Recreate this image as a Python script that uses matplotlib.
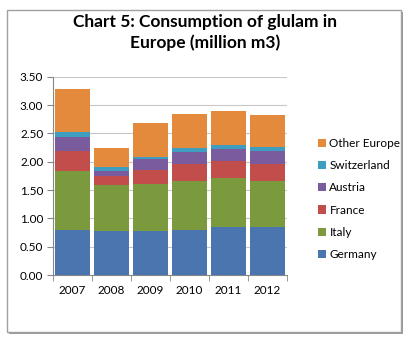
import matplotlib
matplotlib.use("Agg")
import matplotlib.pyplot as plt
from matplotlib.patches import Rectangle
import numpy as np

years = ["2007", "2008", "2009", "2010", "2011", "2012"]
series_names = ["Germany", "Italy", "France", "Austria", "Switzerland", "Other Europe"]
germany = [0.79, 0.78, 0.78, 0.79, 0.85, 0.85]
italy = [1.05, 0.81, 0.83, 0.87, 0.87, 0.81]
france = [0.34, 0.16, 0.25, 0.30, 0.29, 0.30]
austria = [0.26, 0.09, 0.18, 0.21, 0.21, 0.23]
switzerland = [0.08, 0.06, 0.05, 0.08, 0.07, 0.07]
other_europe = [0.76, 0.35, 0.59, 0.60, 0.60, 0.56]
colors = ["#4A75AE", "#7B9A3D", "#C24E4C", "#7A5B9E", "#3F9DC0", "#E48A3C"]

plt.rcParams['font.family'] = ['Lato', 'DejaVu Sans']

fig = plt.figure(figsize=(4.13, 3.44), dpi=100)
fig.patch.set_facecolor("white")

# frame with shadow
fig.patches.append(Rectangle((9/413, 1-334/344), 394/413, 322/344, transform=fig.transFigure,
                             facecolor="#9a9a9a", edgecolor="none", zorder=0))
fig.patches.append(Rectangle((7/413, 1-332/344), 394/413, 322/344, transform=fig.transFigure,
                             facecolor="white", edgecolor="#a0a0a0", linewidth=1, zorder=0.5))

ax = fig.add_axes([53/413, 1-275/344, 234/413, (275-76.7)/344])
ax.set_zorder(2)
x = np.arange(len(years))
data = [germany, italy, france, austria, switzerland, other_europe]
bottom = np.zeros(len(years))
handles = []
for name, vals, c in zip(series_names, data, colors):
    h = ax.bar(x, vals, width=0.9, bottom=bottom, color=c, label=name, zorder=3)
    handles.append(h)
    bottom += np.array(vals)

ax.set_xlim(-0.5, len(years) - 0.5)
ax.set_ylim(0, 3.5)
ax.set_yticks(np.arange(0, 3.51, 0.5))
ax.set_yticklabels([f"{v:.2f}" for v in np.arange(0, 3.51, 0.5)])
ax.set_xticks(x)
ax.set_xticklabels(years)
ax.set_xticks(np.arange(-0.5, len(years), 1), minor=True)
ax.tick_params(axis='x', which='major', length=0, pad=7, labelsize=8.5, colors="black")
ax.tick_params(axis='x', which='minor', length=4, color="#888888", direction='out')
ax.tick_params(axis='y', length=4, color="#888888", labelsize=8.5, pad=3)
ax.grid(axis='y', color="#c8c8c8", linewidth=0.8, zorder=0)
for s in ["top", "right"]:
    ax.spines[s].set_visible(False)
ax.spines["left"].set_color("#888888")
ax.spines["bottom"].set_color("#888888")

fig.text(205/413, 1-22/344, "Chart 5: Consumption of glulam in", ha="center", va="center",
         fontsize=12.5, fontweight="bold")
fig.text(205/413, 1-43/344, "Europe (million m3)", ha="center", va="center",
         fontsize=12.5, fontweight="bold")

leg = fig.legend(handles[::-1], series_names[::-1], loc="center left",
                 bbox_to_anchor=(307/413, 1-199/344), frameon=False, fontsize=8.5,
                 handlelength=0.7, handleheight=0.7, handletextpad=0.3, labelspacing=0.95)

fig.savefig("out.png", dpi=100)
